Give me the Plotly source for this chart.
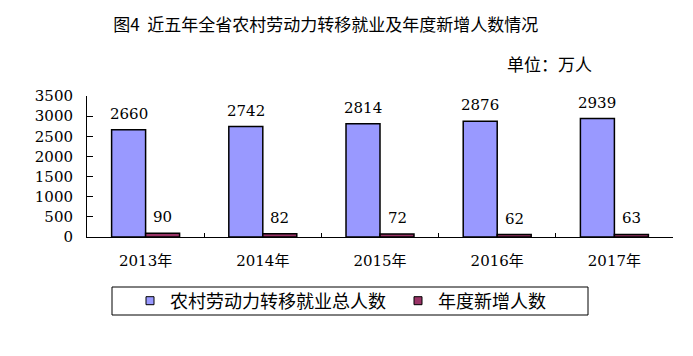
import plotly.graph_objects as go

categories = ["2013年", "2014年", "2015年", "2016年", "2017年"]
total_transfer = [2660, 2742, 2814, 2876, 2939]
new_added = [90, 82, 72, 62, 63]
series_names = ["农村劳动力转移就业总人数", "年度新增人数"]
series_colors = ["#9999FF", "#993366"]
y_ticks = [0, 500, 1000, 1500, 2000, 2500, 3000, 3500]

FONT = "DejaVu Serif, Noto Sans CJK SC, serif"
CJK = "Noto Sans CJK SC, sans-serif"

fig = go.Figure()
for vals, name, col in zip([total_transfer, new_added], series_names, series_colors):
    fig.add_trace(go.Bar(x=categories, y=vals, name=name, showlegend=False,
                         marker=dict(color=col, line=dict(color="#000000", width=1.5))))
# legend entries with small square swatches
for name, col in zip(series_names, series_colors):
    fig.add_trace(go.Scatter(x=[None], y=[None], mode="markers", name=name,
                             marker=dict(symbol="square", size=8, color=col,
                                         line=dict(color="#000", width=1))))

annotations = []
for c, v in zip(categories, total_transfer):
    annotations.append(dict(x=c, y=v, xref="x", yref="y", text=str(v), showarrow=False,
                            xshift=-17, yshift=5, yanchor="bottom",
                            font=dict(family=FONT, size=15, color="#000")))
for c, v in zip(categories, new_added):
    annotations.append(dict(x=c, y=v, xref="x", yref="y", text=str(v), showarrow=False,
                            xshift=17, yshift=5, yanchor="bottom",
                            font=dict(family=FONT, size=15, color="#000")))
annotations.append(dict(x=(594 - 87) / 586, y=(237 - 63) / 141, xref="paper", yref="paper",
                        text="单位：万人", showarrow=False, xanchor="right", yanchor="middle",
                        font=dict(family=CJK, size=17, color="#000")))

fig.update_layout(
    width=693, height=356,
    margin=dict(l=87, r=20, t=96, b=119, autoexpand=False),
    paper_bgcolor="white", plot_bgcolor="white",
    barmode="group", bargap=0.42, bargroupgap=0,
    title=dict(text="图4  近五年全省农村劳动力转移就业及年度新增人数情况",
               x=0.47, xref="container", xanchor="center",
               y=1 - 25 / 356, yref="container", yanchor="middle",
               font=dict(family=CJK, size=17, color="#000")),
    font=dict(family=FONT, size=15, color="#000"),
    xaxis=dict(showline=True, linecolor="#000", linewidth=1, ticks="inside",
               tickson="boundaries", ticklen=4, tickcolor="#000",
               showgrid=False, ticklabelstandoff=10,
               tickfont=dict(family=FONT, size=15)),
    yaxis=dict(range=[0, 3500], tickvals=y_ticks, showline=True, linecolor="#000",
               linewidth=1, ticks="inside", ticklen=6, tickcolor="#000",
               showgrid=False, zeroline=False, ticklabelstandoff=10,
               tickfont=dict(family=FONT, size=15)),
    showlegend=True,
    legend=dict(orientation="h", x=(130 - 87) / 586, xanchor="left",
                y=(237 - 301) / 141, yanchor="middle",
                font=dict(family=CJK, size=18, color="#000"),
                entrywidth=223, entrywidthmode="pixels",
                bgcolor="rgba(0,0,0,0)", borderwidth=0),
    shapes=[dict(type="rect", xref="paper", yref="paper",
                 x0=(112 - 87) / 586, x1=(588 - 87) / 586,
                 y0=(237 - 315) / 141, y1=(237 - 287) / 141,
                 line=dict(color="#000", width=1), fillcolor="rgba(0,0,0,0)")],
    annotations=annotations,
)

fig.write_html("out.html", config={"displayModeBar": False},
               post_script="document.body.style.margin='0';")
